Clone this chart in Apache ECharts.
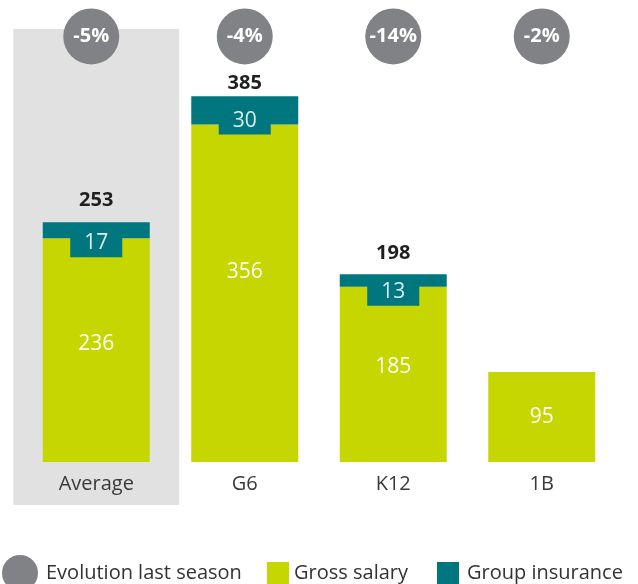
<!DOCTYPE html>
<html>
<head>
<meta charset="utf-8">
<script src="https://cdn.jsdelivr.net/npm/echarts@6/dist/echarts.min.js"></script>
<style>
  html, body { margin: 0; padding: 0; background: #fff; }
  #main { width: 638px; height: 584px; }
</style>
</head>
<body>
<div id="main"></div>
<script>
const categories = ['Average', 'G6', 'K12', '1B']
const grossSalary = [236, 356, 185, 95]
const groupInsurance = [17, 30, 13, null]
const totals = [253, 385, 198, null]
const evolution = ['-5%', '-4%', '-14%', '-2%']

const yMax = 460
const badgeLevel = 449 // where the grey circles sit
const font = 'Open Sans'

const chart = echarts.init(document.getElementById('main'), null, { renderer: 'canvas' })

// label tweaks, the original is hand placed
const grossShift = [-6, -21, -7, 0]
const insShift = [19, 10, 19, 19]
const totalGap = [11, 3, 11, 11]

const legendText = { fontFamily: font, fontSize: 20, lineHeight: 22, color: '#333' }

chart.setOption({
  animation: false,
  grid: { left: 22, right: 22, top: 26, bottom: 122 },
  xAxis: {
    type: 'category',
    data: categories,
    axisLine: { show: false },
    axisTick: { show: false },
    axisLabel: { margin: 12, color: '#3a3a3a', fontFamily: font, fontSize: 20, lineHeight: 20 }
  },
  yAxis: {
    type: 'value',
    min: 0,
    max: yMax,
    show: false,
    splitLine: { show: false }
  },
  legend: [
    {
      data: [{ name: 'Evolution last season', icon: 'circle' }],
      left: 2, top: 555, padding: 0,
      itemWidth: 36, itemHeight: 36,
      selectedMode: false,
      textStyle: { ...legendText, padding: [0, 0, 0, 3] }
    },
    {
      data: [{ name: 'Gross salary', icon: 'rect' }],
      left: 267, top: 562, padding: 0,
      itemWidth: 22, itemHeight: 22,
      selectedMode: false,
      textStyle: legendText
    },
    {
      data: [{ name: 'Group insurance', icon: 'rect' }],
      left: 437, top: 562, padding: 0,
      itemWidth: 22, itemHeight: 22,
      selectedMode: false,
      textStyle: { ...legendText, padding: [0, 0, 0, 3] }
    }
  ],
  series: [
    {
      name: 'Gross salary',
      type: 'bar',
      stack: 'pay',
      barWidth: 107,
      itemStyle: { color: '#c5d600' },
      data: grossSalary.map((v, i) => ({
        value: v,
        label: { offset: [0, grossShift[i]] }
      })),
      label: {
        show: true,
        position: 'inside',
        color: '#fff',
        fontFamily: font,
        fontSize: 21
      }
    },
    {
      name: 'Group insurance',
      type: 'bar',
      stack: 'pay',
      barWidth: 107,
      itemStyle: { color: '#00777f' },
      data: groupInsurance.map((v, i) => v == null ? '-' : ({
        value: v,
        label: { offset: [0, insShift[i]] }
      })),
      label: {
        show: true,
        position: 'insideBottom',
        distance: 0,
        color: '#dcecee',
        fontFamily: font,
        fontSize: 21,
        lineHeight: 22,
        backgroundColor: '#00777f',
        padding: [3, 14, 3, 14]
      }
    },
    {
      name: 'Total',
      type: 'scatter',
      symbolSize: 1,
      itemStyle: { color: 'transparent', opacity: 1 },
      data: totals.map((v, i) => v == null ? '-' : ({
        value: v,
        label: { distance: totalGap[i] }
      })),
      label: {
        show: true,
        position: 'top',
        color: '#1f1f1f',
        fontFamily: font,
        fontWeight: 'bold',
        fontSize: 20,
        lineHeight: 20
      }
    },
    {
      name: 'Evolution last season',
      type: 'scatter',
      symbol: 'circle',
      symbolSize: 56,
      itemStyle: { color: '#808285', opacity: 1 },
      data: evolution.map((v, i) => ({
        value: badgeLevel,
        symbolOffset: i === 0 ? [-5, 0] : [0, 0]
      })),
      label: {
        show: true,
        position: 'inside',
        formatter: p => evolution[p.dataIndex],
        color: '#fff',
        fontFamily: font,
        fontWeight: 'bold',
        fontSize: 20
      }
    }
  ]
})

// grey panel behind the Average column
const cx = chart.convertToPixel({ xAxisIndex: 0 }, categories[0])
const yTop = chart.convertToPixel({ yAxisIndex: 0 }, yMax)
const yBase = chart.convertToPixel({ yAxisIndex: 0 }, 0)
chart.setOption({
  graphic: [{
    type: 'rect',
    z: -10,
    silent: true,
    shape: { x: cx - 83, y: yTop + 3, width: 166, height: yBase + 43 - (yTop + 3) },
    style: { fill: '#e1e1e1' }
  }]
})
</script>
</body>
</html>
